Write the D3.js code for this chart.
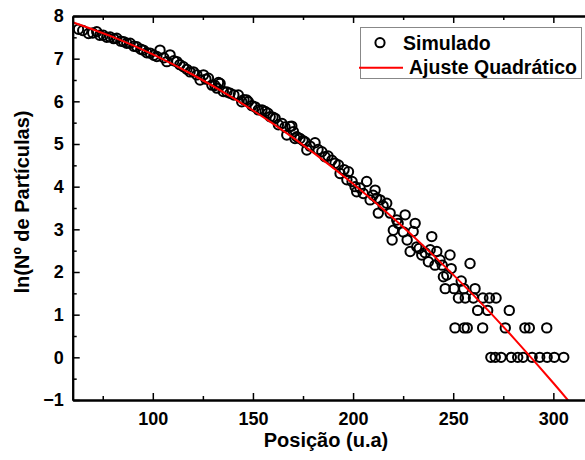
<!DOCTYPE html>
<html>
<head>
<meta charset="utf-8">
<script src="https://cdn.jsdelivr.net/npm/d3@7"></script>
<style>
  body { margin: 0; background: #fff; }
  svg { display: block; font-family: "Liberation Sans", Arial, sans-serif; font-weight: bold; }
</style>
</head>
<body>
<div id="chart"></div>
<script>
// pontos simulados (posição, ln N)
const simX = [62.9, 65.0, 67.9, 70.0, 72.0, 73.5, 75.3, 77.0, 78.7, 80.5, 82.0, 84.0, 85.4, 87.0, 88.7,
  90.5, 92.0, 94.0, 95.3, 97.0, 98.7, 100.5, 102.0, 103.6, 105.5, 107.0, 108.6, 110.5, 112.0, 113.5,
  115.3, 117.0, 118.6, 120.3, 122.0, 123.6, 125.3, 126.5, 127.8, 129.5, 131.0, 132.0, 132.8, 133.6, 135.2,
  137.0, 138.6, 140.5, 142.7, 144.4, 145.5, 146.9, 147.7, 149.5, 151.1, 152.7, 154.5, 156.1, 157.5, 158.6,
  160.0, 161.1, 162.7, 164.5, 166.0, 166.9, 168.5, 169.4, 170.2, 171.0, 171.9, 173.5, 175.0, 176.0, 176.9,
  178.5, 181.0, 182.5, 184.4, 186.0, 187.5, 189.4, 191.0, 192.7, 193.5, 195.5, 196.9, 197.7, 199.5, 201.0,
  201.8, 203.5, 205.1, 206.8, 208.5, 210.0, 211.0, 211.8, 212.6, 213.5, 215.0, 216.8, 218.5, 219.5, 220.1,
  221.8, 222.5, 225.1, 226.0, 227.0, 228.5, 230.0, 231.0, 231.8, 233.0, 234.3, 236.0, 237.6, 238.5, 239.3,
  240.9, 241.8, 243.4, 244.5, 245.1, 246.0, 246.8, 248.4, 249.0, 250.4, 250.9, 252.6, 254.0, 255.3, 255.5,
  256.0, 257.0, 258.4, 260.1, 260.9, 262.2, 264.7, 264.8, 267.2, 268.1, 268.8, 271.0, 271.4, 273.9, 276.0,
  278.0, 279.0, 282.2, 284.9, 285.8, 288.0, 289.4, 293.2, 296.7, 296.9, 300.5, 305.2];
const simY = [7.69, 7.66, 7.59, 7.60, 7.63, 7.55, 7.55, 7.50, 7.51, 7.47, 7.48, 7.41, 7.40, 7.36, 7.36,
  7.29, 7.28, 7.22, 7.20, 7.14, 7.13, 7.08, 7.05, 7.20, 7.02, 6.93, 7.09, 6.95, 6.93, 6.86,
  6.81, 6.75, 6.69, 6.69, 6.62, 6.50, 6.62, 6.52, 6.54, 6.38, 6.37, 6.31, 6.44, 6.42, 6.23,
  6.22, 6.19, 6.15, 6.15, 5.99, 6.04, 6.03, 5.99, 5.90, 5.87, 5.80, 5.80, 5.76, 5.72, 5.64,
  5.63, 5.60, 5.45, 5.48, 5.40, 5.21, 5.41, 5.42, 5.29, 5.13, 5.17, 5.13, 5.08, 5.05, 4.86,
  4.95, 5.03, 4.87, 4.82, 4.70, 4.72, 4.62, 4.55, 4.51, 4.31, 4.40, 4.16, 4.35, 4.12, 4.00,
  3.88, 3.97, 3.84, 4.12, 3.69, 3.80, 3.92, 3.73, 3.38, 3.69, 3.55, 3.61, 3.38, 2.75, 2.98,
  3.22, 3.14, 2.94, 3.34, 2.75, 2.48, 2.95, 3.14, 2.59, 2.55, 2.40, 2.45, 2.24, 2.52, 2.83,
  2.16, 2.48, 2.28, 2.16, 1.89, 1.61, 1.93, 2.40, 2.08, 1.61, 0.69, 1.39, 1.79, 1.61, 0.69,
  1.39, 0.69, 2.20, 1.39, 1.61, 1.10, 0.69, 1.39, 1.10, 1.39, 0, 0, 1.39, 0, 0.69,
  1.10, 0, 0, 0, 0.69, 0.69, 0, 0, 0.69, 0, 0, 0];

const fitX = [60, 80, 100, 120, 140, 160, 180, 200, 220, 240, 260, 280, 300, 310];
const fitY = [7.855, 7.510, 7.099, 6.623, 6.082, 5.476, 4.804, 4.067, 3.264, 2.395, 1.463, 0.463, -0.601, -1.158];

const xTicks = [100, 150, 200, 250, 300];
const xMinor = [75, 125, 175, 225, 275];
const yTicks = [-1, 0, 1, 2, 3, 4, 5, 6, 7, 8];
const yMinor = [-0.5, 0.5, 1.5, 2.5, 3.5, 4.5, 5.5, 6.5, 7.5];

const W = 585, H = 460;
const mLeft = 72.7, mTop = 16, mBottom = 400, mRight = 593.4;

const svg = d3.select("#chart").append("svg")
    .attr("width", W)
    .attr("height", H);

const x = d3.scaleLinear().domain([60, 320]).range([mLeft, mRight]);
const y = d3.scaleLinear().domain([-1, 8]).range([mBottom, mTop]);

svg.append("clipPath").attr("id", "clip")
   .append("rect")
   .attr("x", mLeft).attr("y", mTop)
   .attr("width", mRight - mLeft).attr("height", mBottom - mTop);

// pontos
svg.append("g")
   .selectAll("circle")
   .data(simX.map((d, i) => [d, simY[i]]))
   .enter()
   .append("circle")
   .attr("cx", d => x(d[0]))
   .attr("cy", d => y(d[1]))
   .attr("r", 4.7)
   .attr("fill", "none")
   .attr("stroke", "#000")
   .attr("stroke-width", 2);

// curva de ajuste
const line = d3.line()
    .x(d => x(d[0]))
    .y(d => y(d[1]))
    .curve(d3.curveNatural);

svg.append("path")
   .datum(fitX.map((d, i) => [d, fitY[i]]))
   .attr("clip-path", "url(#clip)")
   .attr("d", line)
   .attr("fill", "none")
   .attr("stroke", "#ff0000")
   .attr("stroke-width", 2);

// eixos
function styleAxis(g) {
    g.selectAll("path.domain").attr("stroke", "#000").attr("stroke-width", 2);
    g.selectAll(".tick line").attr("stroke", "#000").attr("stroke-width", 1.5);
    g.selectAll("text")
     .attr("fill", "#000")
     .attr("font-size", "18px")
     .attr("font-weight", "bold")
     .attr("font-family", "'Liberation Sans', Arial, sans-serif");
}

svg.append("g")
   .attr("transform", `translate(0,${mBottom})`)
   .call(d3.axisBottom(x).tickValues(xTicks).tickSize(-7).tickSizeOuter(0).tickPadding(12))
   .call(styleAxis);
svg.append("g")
   .attr("transform", `translate(0,${mBottom})`)
   .call(d3.axisBottom(x).tickValues(xMinor).tickSize(-4).tickSizeOuter(0).tickFormat(""))
   .call(styleAxis);

svg.append("g")
   .attr("transform", `translate(0,${mTop})`)
   .call(d3.axisTop(x).tickValues(xTicks).tickSize(-7).tickSizeOuter(0).tickFormat(""))
   .call(styleAxis);
svg.append("g")
   .attr("transform", `translate(0,${mTop})`)
   .call(d3.axisTop(x).tickValues(xMinor).tickSize(-4).tickSizeOuter(0).tickFormat(""))
   .call(styleAxis);

svg.append("g")
   .attr("transform", `translate(${mLeft},0)`)
   .call(d3.axisLeft(y).tickValues(yTicks).tickSize(-7).tickSizeOuter(0).tickPadding(9).tickFormat(d3.format("d")))
   .call(styleAxis);
svg.append("g")
   .attr("transform", `translate(${mLeft},0)`)
   .call(d3.axisLeft(y).tickValues(yMinor).tickSize(-4).tickSizeOuter(0).tickFormat(""))
   .call(styleAxis);

svg.append("g")
   .attr("transform", `translate(${mRight},0)`)
   .call(d3.axisRight(y).tickValues(yTicks).tickSize(-7).tickSizeOuter(0).tickFormat(""))
   .call(styleAxis);

// títulos
svg.append("text")
   .attr("x", 326)
   .attr("y", 447)
   .attr("text-anchor", "middle")
   .attr("font-size", "20px")
   .text("Posição (u.a)");

svg.append("text")
   .attr("transform", "translate(29,202) rotate(-90)")
   .attr("text-anchor", "middle")
   .attr("font-size", "20px")
   .text("ln(Nº de Partículas)");

// legenda
const lg = svg.append("g");
lg.append("rect")
  .attr("x", 360.5).attr("y", 27.5)
  .attr("width", 221).attr("height", 51)
  .attr("fill", "#fff")
  .attr("stroke", "#888")
  .attr("stroke-width", 1);
lg.append("circle")
  .attr("cx", 380).attr("cy", 42.7).attr("r", 4.6)
  .attr("fill", "none").attr("stroke", "#000").attr("stroke-width", 2);
lg.append("text")
  .attr("x", 403).attr("y", 49.5)
  .attr("font-size", "19.5px")
  .text("Simulado");
lg.append("line")
  .attr("x1", 359).attr("x2", 403)
  .attr("y1", 67.7).attr("y2", 67.7)
  .attr("stroke", "#ff0000").attr("stroke-width", 2);
lg.append("text")
  .attr("x", 409).attr("y", 74)
  .attr("font-size", "19.5px")
  .text("Ajuste Quadrático");
</script>
</body>
</html>
